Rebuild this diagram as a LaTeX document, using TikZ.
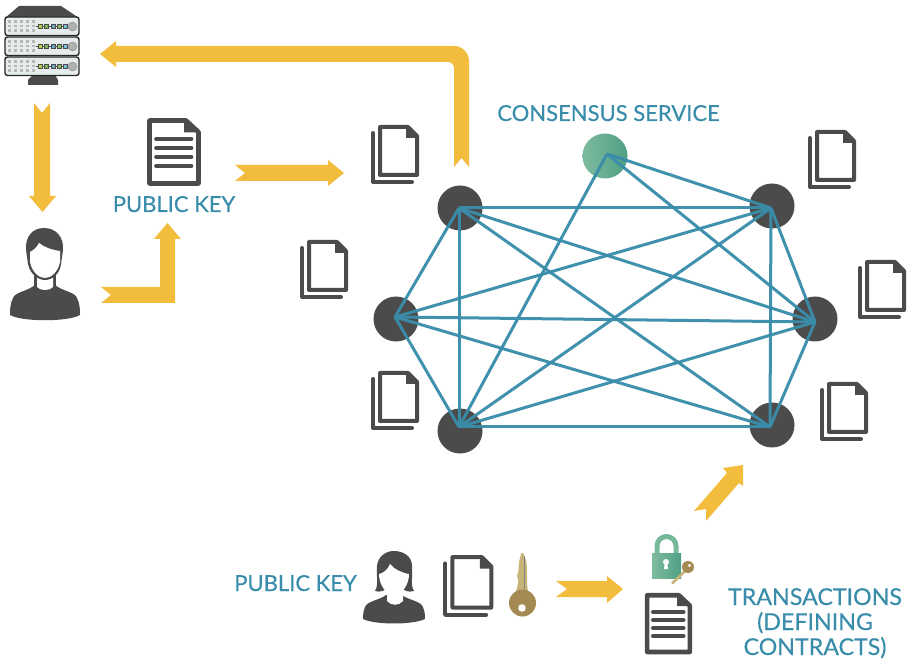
\documentclass[tikz,border=0pt]{standalone}
\usepackage{fontspec}
\setmainfont[FakeBold=0.35]{Lato}
\usetikzlibrary{calc}
\definecolor{ribbonc}{HTML}{F2BC3D}
\definecolor{teal}{HTML}{3A8DAA}
\definecolor{ink}{HTML}{4A4B4A}
\definecolor{gleft}{HTML}{7EBB9E}
\definecolor{gright}{HTML}{4F9F84}
\definecolor{rackc}{HTML}{E6ECEC}
\definecolor{keyd}{HTML}{A48A52}
\definecolor{keyl}{HTML}{C6B377}
\definecolor{leda}{HTML}{B5CF4F}
\definecolor{ledb}{HTML}{7FB55B}
\definecolor{ledc}{HTML}{6FA8C9}
\definecolor{ledd}{HTML}{8CBF60}
\definecolor{lede}{HTML}{7FC0DA}
\tikzset{
  peer/.style={circle,fill=ink,inner sep=0pt,minimum size=45pt},
  orderer/.style={circle,left color=gleft,right color=gright,inner sep=0pt,minimum size=45pt},
  mesh/.style={draw=teal,line width=3pt,opacity=.97},
  ribbon/.style={fill=ribbonc},
  lbl/.style={text=teal,font=\fontsize{22}{25}\selectfont,inner sep=0pt,align=center},
  lblb/.style={lbl,font=\fontsize{23.2}{25}\selectfont},
  docpair/.pic={
    \draw[ink,line width=4pt,line cap=round,line join=round] (2,8)--(2,57)--(41,57);
    \draw[ink,line width=4pt,line join=round,fill=white] (9,2)--(37,2)--(46,11)--(46,50)--(9,50)--cycle;
    \fill[ink] (35,2)--(35,13)--(47,13)--(37,1)--cycle;
  },
  docfull/.pic={
    \draw[ink,line width=4.6pt,line join=round,fill=white] (2.5,2.5)--(39,2.5)--(51.5,14)--(51.5,65.5)--(2.5,65.5)--cycle;
    \fill[ink] (37,2)--(37,14.5)--(52,14.5)--(39,1)--cycle;
    \foreach \yy in {21,30,39,48}
      \draw[ink,line width=3.6pt,line cap=round] (9,\yy)--(44.5,\yy);
  }
}
\begin{document}
\begin{tikzpicture}[x=1pt,y=-1pt]
\useasboundingbox (0,0) rectangle (911,660);

% peers
\node[peer] (tl) at (460,208) {};
\node[peer] (l) at (396,319) {};
\node[peer] (bl) at (460,431) {};
\node[peer] (tr) at (772,206) {};
\node[peer] (r) at (815,319) {};
\node[peer] (br) at (772,425) {};
\node[orderer] (ord) at (605,156) {};
\coordinate (tlh) at (459,208);
\coordinate (lh) at (395,317);
\coordinate (blh) at (459,427);
\coordinate (trh) at (771,208);
\coordinate (rh) at (815,322);
\coordinate (brh) at (770,427);
\coordinate (ordh) at (607,154);
\foreach \a/\b in {tlh/trh,tlh/rh,tlh/brh,tlh/lh,tlh/blh,lh/trh,lh/rh,lh/brh,lh/blh,blh/trh,blh/rh,blh/brh,trh/rh,trh/brh,rh/brh,ordh/trh,ordh/rh,ordh/blh}
  \draw[mesh] (\a) -- (\b);

% yellow arrows
\fill[ribbon] (34,103)--(42,113)--(50,103)--(50,196)--(56,196)--(42.5,212)--(29,196)--(34,196)--cycle;
\fill[ribbon] (101,287)--(160,287)--(160,239)--(154,239)--(167.5,223)--(181,239)--(175,239)--(175,303)--(101,303)--(111,295)--cycle;
\fill[ribbon] (235,165)--(328,165)--(328,160)--(344,173)--(328,186)--(328,181)--(235,181)--(245,173)--cycle;
\fill[ribbon] (454,167)--(461.5,158)--(469,167) [rounded corners=15pt]--(469,46) [sharp corners]--(116,46)--(116,41)--(100,54)--(116,67)--(116,62) [rounded corners=6pt]--(454,62) [sharp corners]--cycle;
\fill[ribbon] (556,581)--(607,581)--(607,576)--(623,589)--(607,603)--(607,597)--(556,597)--(567,589)--cycle;
\fill[ribbon] (694,511)--(727,473)--(723,468)--(743,465)--(743,486)--(739,483)--(706,521)--(706,509)--cycle;

% documents
\pic at (371,125) {docpair};
\pic at (300,240) {docpair};
\pic at (371,371) {docpair};
\pic at (808,130) {docpair};
\pic at (858,260) {docpair};
\pic at (820,382) {docpair};
\pic[scale=1.05] at (443,555) {docpair};
\pic at (147,118) {docfull};
\pic[xscale=.87,yscale=.9] at (645,593) {docfull};

% labels
\node[lbl,anchor=base] (pk1) at (174,212) {PUBLIC KEY};
\node[lbl,anchor=base] (cs) at (608.5,121) {CONSENSUS SERVICE};
\node[lbl,anchor=base] (pk2) at (295.5,591) {PUBLIC KEY};
\node[lblb,anchor=base] (t1) at (815,605) {TRANSACTIONS};
\node[lblb,anchor=base] (t2) at (815,630) {(DEFINING};
\node[lblb,anchor=base] (t3) at (815,655) {CONTRACTS)};

% server
\fill[ink] (19,6)--(61,6)--(79,18)--(5,18)--cycle;
\fill[ink] (33,75)--(55,75)--(58,80)--(58,85)--(28,85)--(28,80)--cycle;
\foreach \t in {17,37,57}{
  \draw[black!85,line width=1.4pt,fill=rackc,rounded corners=2.5pt] (5,\t) rectangle (79,\t+18.5);
  \foreach \cx in {9.5,15.5,21.5,27.5,33.5}
    \foreach \cy in {4.5,9,13.5}
      \fill[black!28] (\cx-1.4,\t+\cy-1.4) rectangle (\cx+1.4,\t+\cy+1.4);
  \draw[ink,line width=.8pt] (36,\t+9.5)--(69,\t+9.5);
  \foreach \lx/\lc in {40/leda,46.5/ledb,53/ledc,59/ledd,65/lede}
    \draw[ink,line width=.8pt,fill=\lc] (\lx-2,\t+7.5) rectangle (\lx+2,\t+11.5);
  \fill[black!30] (72.5,\t+9.5) circle (4.4pt);
  \draw[black!45,line width=.5pt] (72.5,\t+9.5) circle (4.4pt);
}

% male
\fill[ink] (35,285) .. controls (28,291) and (15,292) .. (13,298) .. controls (10,304) and (10,310) .. (10,315) .. controls (22,322) and (68,322) .. (80,315) .. controls (80,310) and (80,304) .. (77,298) .. controls (75,292) and (62,291) .. (55,285) -- cycle;
\fill[ink] (34,272) rectangle (56,286);
\fill[white] (37,272)--(37,287) .. controls (40,291) and (50,291) .. (53,287)--(53,272)--cycle;
\fill[ink] (28,264) -- (26,250) .. controls (25,236) and (33,228) .. (44,228) .. controls (56,228) and (64,237) .. (63,250) -- (61,264) .. controls (60,274) and (52,280) .. (45,280) .. controls (38,280) and (30,274) .. (28,264) -- cycle;
\fill[white] (30,252) .. controls (34,250) and (37,247) .. (39,243) .. controls (44,247) and (52,250) .. (60,251) -- (60,262) .. controls (58,272) and (51,278) .. (45,278) .. controls (39,278) and (32,272) .. (30,262) -- cycle;

% female
\fill[ink] (386,595) .. controls (380,600) and (367,601) .. (365,607) .. controls (363,612) and (363,616) .. (363,619) .. controls (375,625) and (413,625) .. (425,619) .. controls (425,616) and (425,612) .. (423,607) .. controls (421,601) and (408,600) .. (402,595) -- cycle;
\fill[white] (387,590)--(387,601) .. controls (391,606) and (399,606) .. (403,601)--(403,590)--cycle;
\fill[ink] (375,591) .. controls (379,585) and (376,575) .. (377,566) .. controls (378,556) and (386,551) .. (394,551) .. controls (403,551) and (412,556) .. (412,566) .. controls (413,575) and (410,585) .. (414,591) .. controls (408,593) and (404,590) .. (401,588) -- (388,588) .. controls (385,590) and (380,593) .. (375,591) -- cycle;
\fill[white] (379,574) .. controls (384,573) and (388,569) .. (390,564) .. controls (394,569) and (402,573) .. (409,574) .. controls (409,584) and (403,594) .. (394,595) .. controls (385,594) and (379,584) .. (379,574) -- cycle;

% big key
\fill[keyl] (521.5,553) .. controls (517,565) and (520,570) .. (517,576) .. controls (520,582) and (517,585) .. (516,592) -- (528,592) .. controls (526,580) and (528,570) .. (526,560) -- (523,553) -- cycle;
\draw[ink!70,line width=.8pt] (524,556)--(524,590);
\fill[keyd] (522.5,603) circle (13.5pt);
\fill[white] (522,608) circle (3.8pt);

% lock
\draw[line width=5pt,gleft!85!gright] (657,556) -- (657,546) arc[start angle=180,end angle=0,radius=9.5pt] -- (676,556);
\shade[left color=gleft,right color=gright] (652,553) rectangle (681,578);
\fill[white] (666,562) circle (3pt);
\fill[white] (664.7,563)--(667.3,563)--(668,569)--(664,569)--cycle;
\draw[keyl,line width=2.6pt] (672,583.5)--(686,570);
\fill[keyd] (688,567) circle (6pt);
\fill[white] (689.5,565.5) circle (1.6pt);
\end{tikzpicture}
\end{document}
